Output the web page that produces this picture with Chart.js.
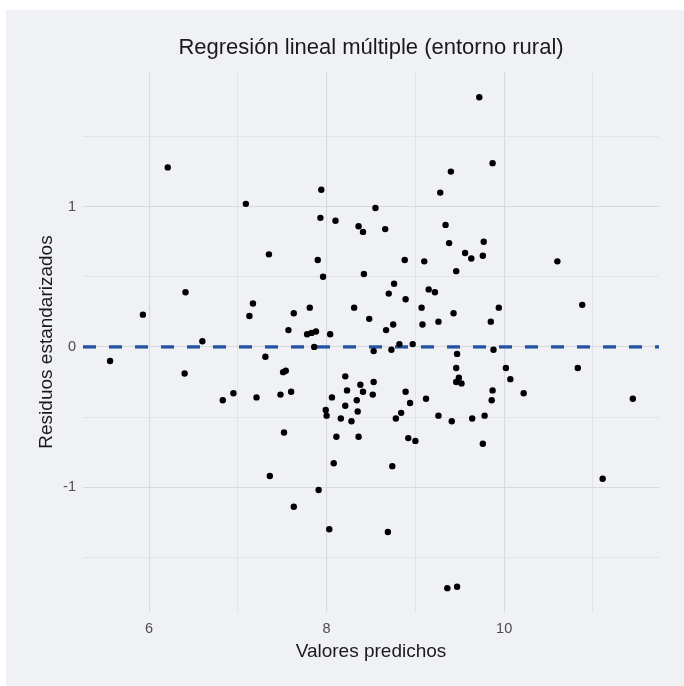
<!DOCTYPE html>
<html>
<head>
<meta charset="utf-8">
<script src="https://cdn.jsdelivr.net/npm/chart.js@4"></script>
<style>
  html, body { margin: 0; padding: 0; background: #ffffff; }
  #wrap { position: absolute; left: 6px; top: 10px; width: 678px; height: 676px; background: #f0f1f5; }
</style>
</head>
<body>
<div id="wrap"><canvas id="chart" width="678" height="676"></canvas></div>
<script>
// Predicted values (x) and standardized residuals (y)
const predichos = [
  6.21, 7.09, 7.35, 9.72, 9.40, 9.28, 7.94, 8.55, 7.93, 8.10,
  8.36, 8.41, 8.66, 9.34, 9.38, 9.56, 9.63, 8.88, 9.10, 7.90,
  9.77, 9.76, 9.87, 10.60, 7.96, 8.42, 9.46, 8.76, 8.70, 8.89,
  9.15, 9.22, 7.63, 7.81, 8.31, 8.48, 9.07, 9.43, 7.57, 7.78,
  7.83, 7.88, 8.04, 8.67, 8.75, 9.08, 9.26, 7.86, 8.53, 8.73,
  8.82, 8.97, 9.47, 9.46, 9.49, 9.46, 9.52, 9.94, 9.85, 10.88,
  9.88, 10.02, 10.07, 9.87, 9.86, 10.22, 10.83, 11.45, 9.78, 9.76,
  11.11, 7.51, 7.54, 8.21, 7.48, 7.60, 8.23, 8.38, 8.41, 8.53,
  8.52, 8.06, 8.34, 8.89, 8.94, 9.12, 7.99, 8.00, 8.21, 8.35,
  8.16, 8.28, 8.78, 8.84, 9.26, 9.41, 9.64, 7.52, 8.11, 8.36,
  8.92, 9.00, 8.08, 8.74, 7.91, 7.63, 8.03, 8.69, 9.36, 9.47,
  6.41, 5.93, 7.17, 7.13, 6.60, 5.56, 6.40, 7.31, 6.83, 6.95,
  7.21, 7.36
];
const residuos = [
  1.28, 1.02, 0.66, 1.78, 1.25, 1.10, 1.12, 0.99, 0.92, 0.90,
  0.86, 0.82, 0.84, 0.87, 0.74, 0.67, 0.63, 0.62, 0.61, 0.62,
  0.75, 0.65, 1.31, 0.61, 0.50, 0.52, 0.54, 0.45, 0.38, 0.34,
  0.41, 0.39, 0.24, 0.28, 0.28, 0.20, 0.28, 0.24, 0.12, 0.09,
  0.10, 0.11, 0.09, 0.12, 0.16, 0.16, 0.18, 0.00, -0.03, -0.02,
  0.02, 0.02, -0.05, -0.15, -0.22, -0.25, -0.26, 0.28, 0.18, 0.30,
  -0.02, -0.15, -0.23, -0.31, -0.38, -0.33, -0.15, -0.37, -0.49, -0.69,
  -0.94, -0.18, -0.17, -0.21, -0.34, -0.32, -0.31, -0.27, -0.32, -0.25,
  -0.34, -0.36, -0.38, -0.32, -0.40, -0.37, -0.45, -0.49, -0.42, -0.46,
  -0.51, -0.53, -0.51, -0.47, -0.49, -0.53, -0.51, -0.61, -0.64, -0.64,
  -0.65, -0.67, -0.83, -0.85, -1.02, -1.14, -1.30, -1.32, -1.72, -1.71,
  0.39, 0.23, 0.31, 0.22, 0.04, -0.10, -0.19, -0.07, -0.38, -0.33,
  -0.36, -0.92
];

// Axis ranges and grid positions
const xRange = [5.255, 11.745];
const yRange = [-1.89, 1.96];
const xGrid = [6, 7, 8, 9, 10, 11];
const xLabels = [6, 8, 10];
const yGrid = [-1.5, -1, -0.5, 0, 0.5, 1, 1.5];
const yLabels = [-1, 0, 1];
const refLine = 0;

const puntos = predichos.map((x, i) => ({ x: x, y: residuos[i] }));

const gridColor = (ctx, major) =>
  major.includes(ctx.tick.value) ? '#d8d9de' : '#e1e2e7';

const titlePlugin = {
  id: 'plotTitle',
  afterDraw(chart) {
    const { ctx, chartArea } = chart;
    ctx.save();
    ctx.font = '22px "Liberation Sans", Arial, sans-serif';
    ctx.fillStyle = '#1a1a1a';
    ctx.textAlign = 'center';
    ctx.textBaseline = 'middle';
    ctx.fillText('Regresión lineal múltiple (entorno rural)', (chartArea.left + chartArea.right) / 2, 38);
    ctx.restore();
  }
};

new Chart(document.getElementById('chart'), {
  type: 'scatter',
  data: {
    datasets: [
      {
        label: 'Residuos',
        data: puntos,
        backgroundColor: '#000000',
        borderWidth: 0,
        pointRadius: 3.2
      },
      {
        label: 'Referencia',
        data: [{ x: xRange[0], y: refLine }, { x: xRange[1], y: refLine }],
        showLine: true,
        borderColor: '#2352a3',
        borderWidth: 3.3,
        borderDash: [13, 13],
        pointRadius: 0
      }
    ]
  },
  options: {
    responsive: false,
    animation: false,
    layout: { padding: { top: 62, right: 25, left: 0, bottom: 0 } },
    plugins: {
      legend: { display: false },
      tooltip: { enabled: false },
      title: { display: false }
    },
    scales: {
      x: {
        min: xRange[0],
        max: xRange[1],
        afterBuildTicks: (s) => { s.ticks = xGrid.map(v => ({ value: v })); },
        afterFit: (s) => { s.height = 74; },
        border: { display: false },
        grid: {
          drawTicks: false,
          color: (ctx) => gridColor(ctx, xLabels),
          lineWidth: (ctx) => xLabels.includes(ctx.tick.value) ? 1.1 : 0.9
        },
        ticks: {
          padding: 8,
          color: '#4d4d4d',
          font: { family: '"Liberation Sans", Arial, sans-serif', size: 14.5 },
          callback: (v) => xLabels.includes(v) ? String(v) : ''
        },
        title: {
          display: true,
          text: 'Valores predichos',
          color: '#1a1a1a',
          font: { family: '"Liberation Sans", Arial, sans-serif', size: 19 },
          padding: { top: 0, bottom: 23 }
        }
      },
      y: {
        min: yRange[0],
        max: yRange[1],
        afterBuildTicks: (s) => { s.ticks = yGrid.map(v => ({ value: v })); },
        afterFit: (s) => { s.width = 77; },
        border: { display: false },
        grid: {
          drawTicks: false,
          color: (ctx) => gridColor(ctx, yLabels),
          lineWidth: (ctx) => yLabels.includes(ctx.tick.value) ? 1.1 : 0.9
        },
        ticks: {
          padding: 7,
          color: '#4d4d4d',
          font: { family: '"Liberation Sans", Arial, sans-serif', size: 14.5 },
          callback: (v) => yLabels.includes(v) ? String(v) : ''
        },
        title: {
          display: true,
          text: 'Residuos estandarizados',
          color: '#1a1a1a',
          font: { family: '"Liberation Sans", Arial, sans-serif', size: 19 },
          padding: { top: 29, bottom: 0 }
        }
      }
    }
  },
  plugins: [titlePlugin]
});
</script>
</body>
</html>
